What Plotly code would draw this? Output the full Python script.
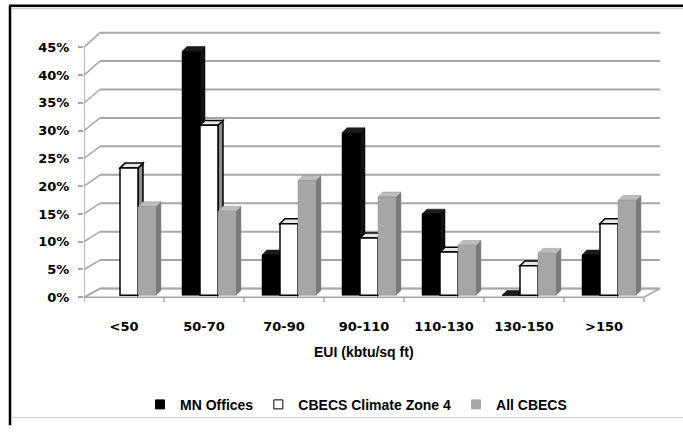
import plotly.graph_objects as go

# ---- data -------------------------------------------------------------
categories = ["<50", "50-70", "70-90", "90-110", "110-130", "130-150", ">150"]
mn_offices = [None, 42.9, 7.1, 28.6, 14.3, 0.0, 7.1]
cbecs_zone4 = [22.4, 29.9, 12.6, 10.1, 7.6, 5.2, 12.6]
all_cbecs = [15.6, 14.8, 20.2, 17.3, 8.8, 7.4, 16.7]
series_names = ["MN Offices", "CBECS Climate Zone 4", "All CBECS"]
y_ticks = [0, 5, 10, 15, 20, 25, 30, 35, 40, 45]
x_title = "EUI (kbtu/sq ft)"

# ---- page geometry (pixels) --------------------------------------------
W, H = 683, 433
L, R, T, B = 84, 19, 26, 119
PW, PH = W - L - R, H - T - B
PLOT_BOTTOM = H - B
X0, X1 = -0.5, 6.75
PX_PER_CAT = PW / (X1 - X0)

# bar plane: 0 % sits at pixel 304, 5.87 px per percent
BAR_ZERO_PX, BAR_SCALE = 304.0, 5.87
# front axis plane: 0 % at pixel 306, 5.733 px per percent
FRONT_ZERO_PX, FRONT_SCALE = 306.0, 5.733
# back wall: 0 % at pixel 297
WALL_ZERO_PX = 297.0

y1_range = [(BAR_ZERO_PX - PLOT_BOTTOM) / BAR_SCALE, (BAR_ZERO_PX - T) / BAR_SCALE]
y2_range = [(FRONT_ZERO_PX - PLOT_BOTTOM) / FRONT_SCALE, (FRONT_ZERO_PX - T) / FRONT_SCALE]


def front_to_y(v):
    """front-plane percentage -> bar-plane y units"""
    return (BAR_ZERO_PX - (FRONT_ZERO_PX - v * FRONT_SCALE)) / BAR_SCALE


def px_dx(p):
    return p / PX_PER_CAT


def px_dy(p):
    return p / BAR_SCALE


def paper_x(p):
    return (p - L) / PW


def paper_y(p):
    return (PLOT_BOTTOM - p) / PH


wall_dx = px_dx(16)
wall_y0 = (BAR_ZERO_PX - WALL_ZERO_PX) / BAR_SCALE
floor_front = front_to_y(0)
n = len(categories)

bar_w = 0.225
group_shift = 0.0625
face_dx, face_dy = px_dx(5), px_dy(5)

GRID = "#a6a6a6"
styles = [
    dict(front="#000000", side="#111111", top="#1c1c1c", edge="#000000", ew=0.5),
    dict(front="#ffffff", side="#8c8c8c", top="#e6e6e6", edge="#000000", ew=1.5),
    dict(front="#a6a6a6", side="#7a7a7a", top="#bdbdbd", edge="#8f8f8f", ew=0.5),
]
values = [mn_offices, cbecs_zone4, all_cbecs]

shapes = []


def seg(x0, y0, x1, y1, color=GRID, width=2):
    shapes.append(dict(type="line", xref="x", yref="y", x0=x0, y0=y0, x1=x1, y1=y1,
                       line=dict(color=color, width=width), layer="below"))


def poly(points, fill, color, width):
    path = "M " + " L ".join(f"{x},{y}" for x, y in points) + " Z"
    shapes.append(dict(type="path", xref="x", yref="y", path=path, fillcolor=fill,
                       line=dict(color=color, width=width), layer="below"))


# floor
poly([(X0, floor_front), (n - 0.5, floor_front), (n - 0.5 + wall_dx, wall_y0),
      (X0 + wall_dx, wall_y0)], "#ffffff", GRID, 1.5)

# back wall gridlines and the slanted links to the front axis
for v in y_ticks:
    seg(X0 + wall_dx, v + wall_y0, n - 0.5 + wall_dx, v + wall_y0)
    seg(X0, front_to_y(v), X0 + wall_dx, v + wall_y0, width=1.5)

# front value axis line
seg(X0, front_to_y(0), X0, front_to_y(y_ticks[-1]), width=1.5)

# category tick marks on the floor edge
for k in range(n + 1):
    seg(k - 0.5, floor_front, k - 0.5, floor_front - px_dy(5), width=1.5)

# side and top faces of the columns, painted series by series
for s, (vals, st) in enumerate(zip(values, styles)):
    for i, v in enumerate(vals):
        if v is None:
            continue
        xl = i + group_shift - 1.5 * bar_w + s * bar_w
        xr = xl + bar_w
        poly([(xr, 0), (xr + face_dx, face_dy), (xr + face_dx, v + face_dy), (xr, v)],
             st["side"], st["edge"], st["ew"])
        poly([(xl, v), (xr, v), (xr + face_dx, v + face_dy), (xl + face_dx, v + face_dy)],
             st["top"], st["edge"], st["ew"])

fig = go.Figure()

# front faces of the columns
for s, (name, vals, st) in enumerate(zip(series_names, values, styles)):
    fig.add_trace(go.Bar(
        x=list(range(n)), y=vals, name=name, width=bar_w,
        offset=group_shift - 1.5 * bar_w + s * bar_w,
        marker=dict(color=st["front"], line=dict(color=st["edge"], width=st["ew"])),
        showlegend=False, hovertemplate="%{y}%<extra>" + name + "</extra>",
    ))

# legend keys
for name, st in zip(series_names, styles):
    fig.add_trace(go.Scatter(
        x=[None], y=[None], mode="markers", name=name, yaxis="y2",
        marker=dict(symbol="square", size=9, color=st["front"],
                    line=dict(color="#000000" if st["front"] == "#ffffff" else st["front"], width=1)),
    ))

# outer frame
frame = [
    dict(x0=paper_x(10), y0=paper_y(5), x1=paper_x(10), y1=paper_y(H + 5), color="#000000", w=2.5),
    dict(x0=paper_x(9), y0=paper_y(5), x1=paper_x(W + 5), y1=paper_y(5), color="#000000", w=2.5),
    dict(x0=paper_x(12), y0=paper_y(8), x1=paper_x(W + 5), y1=paper_y(8), color="#d0d0d0", w=1.5),
    dict(x0=paper_x(12), y0=paper_y(430), x1=paper_x(W + 5), y1=paper_y(430), color="#d9d9d9", w=1.5),
]
for f in frame:
    shapes.append(dict(type="line", xref="paper", yref="paper", x0=f["x0"], y0=f["y0"],
                       x1=f["x1"], y1=f["y1"], line=dict(color=f["color"], width=f["w"])))

label_font = "Liberation Sans, Arial, sans-serif"

fig.update_layout(
    width=W, height=H,
    margin=dict(l=L, r=R, t=T, b=B),
    paper_bgcolor="#ffffff", plot_bgcolor="rgba(0,0,0,0)",
    barmode="overlay",
    shapes=shapes,
    xaxis=dict(range=[X0, X1], tickmode="array", tickvals=list(range(n)), ticktext=categories,
               showgrid=False, zeroline=False, showline=False, ticks="",
               ticklabelstandoff=12,
               tickfont=dict(family="DejaVu Sans", size=13, color="#000000", weight="bold")),
    yaxis=dict(range=y1_range, visible=False, showgrid=False, zeroline=False),
    yaxis2=dict(range=y2_range, overlaying="y", side="left", anchor="x",
                tickmode="array", tickvals=y_ticks, ticktext=[f"{v}%" for v in y_ticks],
                ticks="outside", ticklen=5, tickcolor=GRID, tickwidth=1.5,
                ticklabelstandoff=6,
                showgrid=False, zeroline=False, showline=False,
                tickfont=dict(family="DejaVu Sans", size=13, color="#000000", weight="bold")),
    annotations=[dict(text=x_title, x=3, xref="x", y=paper_y(363), yref="paper",
                      xanchor="center", yanchor="middle", showarrow=False,
                      font=dict(family=label_font, size=14, color="#000000", weight="bold"))],
    legend=dict(orientation="h", x=paper_x(356), xanchor="center", y=paper_y(417), yanchor="middle",
                font=dict(family=label_font, size=14, color="#000000", weight="bold"),
                itemwidth=30, bgcolor="rgba(0,0,0,0)", traceorder="normal"),
    showlegend=True,
)

fig.write_html("out.html")
